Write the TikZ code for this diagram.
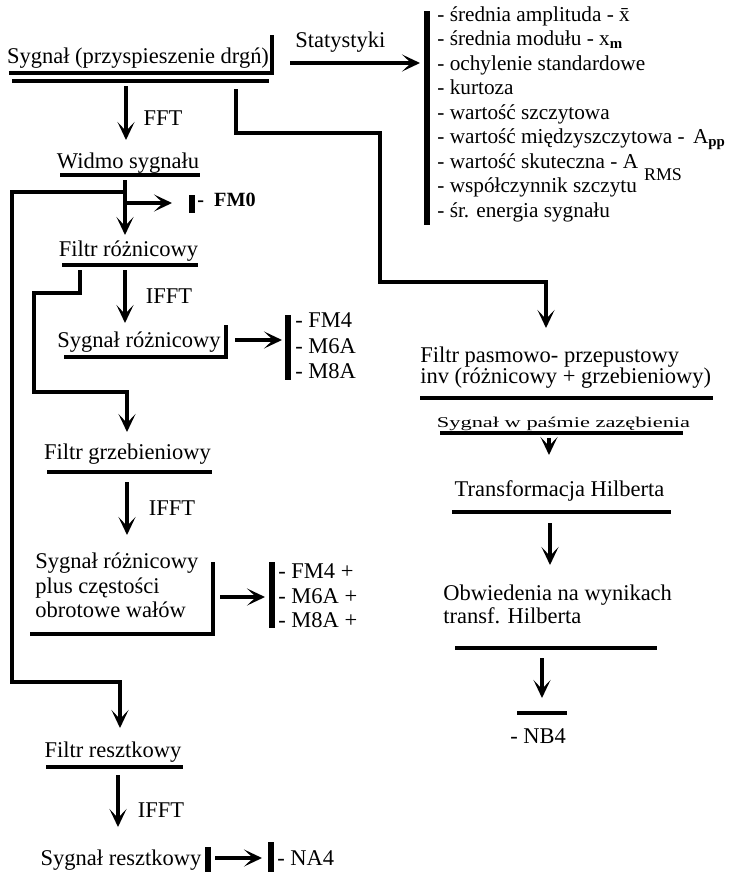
\documentclass[tikz,border=0pt]{standalone}
\usepackage{fontspec}
\setmainfont{Liberation Serif}
\usetikzlibrary{arrows.meta}

\begin{document}
\begin{tikzpicture}[
    label_text/.style={font=\fontsize{12.8}{14}\selectfont,inner sep=0pt,anchor=base},
    label_left/.style={label_text,anchor=base west},
    stat_text/.style={font=\fontsize{12.1}{14}\selectfont,inner sep=0pt,anchor=base west},
    metric_bold/.style={font=\fontsize{11.5}{13}\selectfont\bfseries,inner sep=0pt,anchor=base west},
    flow_line/.style={line width=2.1pt},
    flow_arrow/.style={flow_line,-{Stealth[length=3.6mm,width=3.4mm,inset=1.8mm]}},
    under_bar/.style={line width=2.8pt},
    side_bar/.style={line width=3.2pt}]
  \useasboundingbox (0,0) rectangle (14.98,-17.46);
  % arrow ends and corners
  \coordinate (fft_from) at (2.52,-1.72);
  \coordinate (fft_to) at (2.52,-2.80);
  \coordinate (stat_from) at (5.80,-1.26);
  \coordinate (stat_to) at (8.40,-1.26);
  \coordinate (band_from) at (4.72,-1.78);
  \coordinate (band_a) at (4.72,-2.66);
  \coordinate (band_b) at (7.60,-2.66);
  \coordinate (band_c) at (7.60,-5.64);
  \coordinate (band_d) at (10.92,-5.64);
  \coordinate (band_to) at (10.92,-6.56);
  \coordinate (widmo_stub) at (2.50,-3.60);
  \coordinate (roz_to) at (2.50,-4.70);
  \coordinate (fm0_from) at (2.50,-4.06);
  \coordinate (fm0_to) at (3.44,-4.06);
  \coordinate (rest_a) at (2.50,-3.84);
  \coordinate (rest_b) at (0.24,-3.84);
  \coordinate (rest_c) at (0.24,-13.64);
  \coordinate (rest_d) at (2.40,-13.64);
  \coordinate (rest_to) at (2.40,-14.56);
  \coordinate (ifft1_from) at (2.50,-5.40);
  \coordinate (ifft1_to) at (2.50,-6.46);
  \coordinate (comb_a) at (1.60,-5.40);
  \coordinate (comb_b) at (1.60,-5.86);
  \coordinate (comb_c) at (0.68,-5.86);
  \coordinate (comb_d) at (0.68,-7.84);
  \coordinate (comb_e) at (2.54,-7.84);
  \coordinate (comb_to) at (2.54,-8.64);
  \coordinate (roz_out_from) at (4.70,-6.80);
  \coordinate (roz_out_to) at (5.64,-6.80);
  \coordinate (ifft2_from) at (2.54,-9.64);
  \coordinate (ifft2_to) at (2.54,-10.70);
  \coordinate (plus_out_from) at (4.40,-11.94);
  \coordinate (plus_out_to) at (5.30,-11.94);
  \coordinate (ifft3_from) at (2.36,-15.50);
  \coordinate (ifft3_to) at (2.36,-16.54);
  \coordinate (rest_out_from) at (4.30,-17.16);
  \coordinate (rest_out_to) at (5.24,-17.16);
  \coordinate (zaz_from) at (10.98,-8.76);
  \coordinate (zaz_to) at (10.98,-9.10);
  \coordinate (hilb_from) at (11.00,-10.46);
  \coordinate (hilb_to) at (11.00,-11.30);
  \coordinate (obw_from) at (10.84,-13.16);
  \coordinate (obw_to) at (10.84,-13.96);

  % left column
  \node[label_text] (sygnal) at (2.76,-1.27) {Sygnał (przyspieszenie drgń)};
  \draw[under_bar] (0.18,-1.46) -- (5.44,-1.46) -- (5.44,-0.70);
  \draw[under_bar] (0.24,-1.62) -- (5.38,-1.62);
  \node[label_left] (statystyki) at (5.90,-0.94) {Statystyki};
  \draw[side_bar] (8.54,-0.22) -- (8.54,-4.50);
  \foreach \entry [count=\i] in {
      {- średnia amplituda - \={x}},
      {- średnia modułu - x\textsubscript{\textbf{m}}},
      {- ochylenie standardowe},
      {- kurtoza},
      {- wartość szczytowa},
      {- wartość międzyszczytowa - \hspace{0.06cm}A\textsubscript{\textbf{pp}}},
      {- wartość skuteczna - A\hspace{0.12cm}\raisebox{-0.24cm}{\fontsize{10.2}{12}\selectfont RMS}},
      {- współczynnik szczytu},
      {- śr. energia sygnału}}
    \node[stat_text] (stat_\i) at (8.74,{-0.42-0.49*(\i-1)}) {\entry};
  \node[label_text] (fft) at (3.26,-2.50) {FFT};
  \node[label_text] (widmo) at (2.56,-3.36) {Widmo sygnału};
  \draw[under_bar] (1.20,-3.50) -- (4.00,-3.50);
  \draw[side_bar] (3.84,-3.90) -- (3.84,-4.26);
  \node[metric_bold] (fm0) at (3.94,-4.12) {-~ FM0};
  \node[label_text] (filtr_roz) at (2.57,-5.12) {Filtr różnicowy};
  \draw[under_bar] (1.24,-5.30) -- (3.96,-5.30);
  \node[label_text] (ifft_roz) at (3.38,-6.06) {IFFT};
  \node[label_text] (sygnal_roz) at (2.78,-6.94) {Sygnał różnicowy};
  \draw[under_bar] (1.28,-7.14) -- (4.52,-7.14) -- (4.52,-6.50);
  \draw[side_bar] (5.76,-6.30) -- (5.76,-7.60);
  \node[label_left] (fm4) at (5.90,-6.54) {- FM4};
  \node[label_left] (m6a) at (5.90,-7.06) {- M6A};
  \node[label_left] (m8a) at (5.90,-7.56) {- M8A};
  \node[label_text] (filtr_grz) at (2.55,-9.18) {Filtr grzebieniowy};
  \draw[under_bar] (0.94,-9.44) -- (4.24,-9.44);
  \node[label_text] (ifft_grz) at (3.44,-10.30) {IFFT};
  \node[label_left] (plus_1) at (0.70,-11.36) {Sygnał różnicowy};
  \node[label_left] (plus_2) at (0.70,-11.86) {plus częstości};
  \node[label_left] (plus_3) at (0.70,-12.34) {obrotowe wałów};
  \draw[under_bar] (0.60,-12.68) -- (4.26,-12.68) -- (4.26,-11.24);
  \draw[side_bar] (5.44,-11.24) -- (5.44,-12.56);
  \node[label_left] (fm4_plus) at (5.56,-11.56) {- FM4 +};
  \node[label_left] (m6a_plus) at (5.56,-12.06) {- M6A +};
  \node[label_left] (m8a_plus) at (5.56,-12.54) {- M8A +};
  \node[label_text] (filtr_res) at (2.26,-15.14) {Filtr resztkowy};
  \draw[under_bar] (0.92,-15.34) -- (3.66,-15.34);
  \node[label_text] (ifft_res) at (3.22,-16.34) {IFFT};
  \node[label_text] (sygnal_res) at (2.42,-17.30) {Sygnał resztkowy};
  \draw[side_bar] (4.16,-16.94) -- (4.16,-17.44);
  \draw[side_bar] (5.42,-16.84) -- (5.42,-17.44);
  \node[label_left] (na4) at (5.54,-17.30) {- NA4};

  % right column
  \node[label_left] (pasmo_1) at (8.40,-7.24) {Filtr pasmowo- przepustowy};
  \node[label_left] (pasmo_2) at (8.40,-7.66) {inv (różnicowy + grzebieniowy)};
  \draw[under_bar] (8.40,-7.96) -- (14.26,-7.96);
  \node[label_text] (zazebienie) at (11.27,-8.54)
    {\scalebox{1.5}[1]{\fontsize{8.5}{10}\selectfont Sygnał w paśmie zazębienia}};
  \draw[under_bar] (8.80,-8.66) -- (13.66,-8.66);
  \node[label_text] (hilbert) at (11.19,-9.92) {Transformacja Hilberta};
  \draw[under_bar] (9.04,-10.24) -- (13.42,-10.24);
  \node[label_left] (obw_1) at (8.86,-12.00) {Obwiedenia na wynikach};
  \node[label_left] (obw_2) at (8.86,-12.46) {transf. Hilberta};
  \draw[under_bar] (9.10,-12.96) -- (13.14,-12.96);
  \draw[under_bar] (10.34,-14.26) -- (11.34,-14.26);
  \node[label_left] (nb4) at (10.20,-14.86) {- NB4};

  % connectors
  \draw[flow_arrow] (fft_from) -- (fft_to);
  \draw[flow_arrow] (stat_from) -- (stat_to);
  \draw[flow_arrow] (band_from) -- (band_a) -- (band_b) -- (band_c) -- (band_d) -- (band_to);
  \draw[flow_arrow] (widmo_stub) -- (roz_to);
  \draw[flow_arrow] (fm0_from) -- (fm0_to);
  \draw[flow_arrow] (rest_a) -- (rest_b) -- (rest_c) -- (rest_d) -- (rest_to);
  \draw[flow_arrow] (ifft1_from) -- (ifft1_to);
  \draw[flow_arrow] (comb_a) -- (comb_b) -- (comb_c) -- (comb_d) -- (comb_e) -- (comb_to);
  \draw[flow_arrow] (roz_out_from) -- (roz_out_to);
  \draw[flow_arrow] (ifft2_from) -- (ifft2_to);
  \draw[flow_arrow] (plus_out_from) -- (plus_out_to);
  \draw[flow_arrow] (ifft3_from) -- (ifft3_to);
  \draw[flow_arrow] (rest_out_from) -- (rest_out_to);
  \draw[flow_arrow] (zaz_from) -- (zaz_to);
  \draw[flow_arrow] (hilb_from) -- (hilb_to);
  \draw[flow_arrow] (obw_from) -- (obw_to);
\end{tikzpicture}
\end{document}
